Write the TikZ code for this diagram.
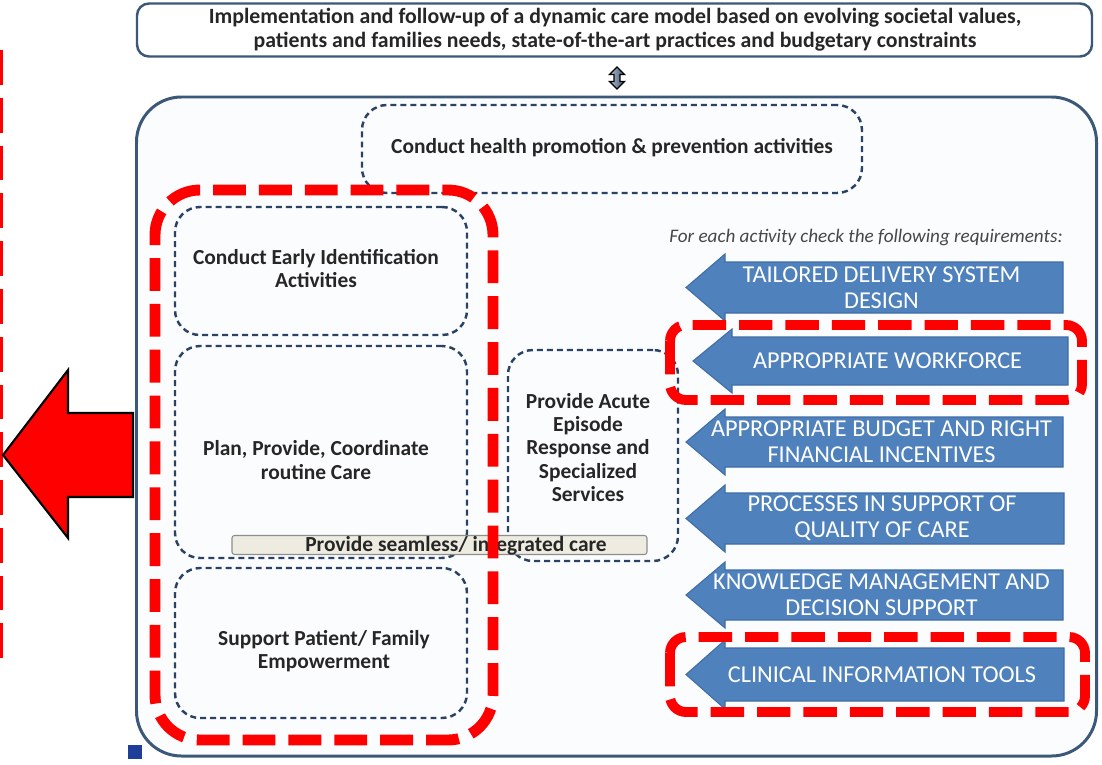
\documentclass[tikz,border=0pt]{standalone}
\usepackage{fontspec}
\setmainfont{Carlito}
\usetikzlibrary{shapes.arrows}

\definecolor{navy}{HTML}{2A4263}
\definecolor{framecol}{HTML}{3B5878}
\definecolor{reqblue}{HTML}{4F81BD}
\definecolor{reqedge}{HTML}{3F6DA6}
\definecolor{hilite}{HTML}{FF0000}
\definecolor{barfill}{HTML}{EEECE1}
\definecolor{baredge}{HTML}{8E8E8E}
\definecolor{panel}{HTML}{FBFCFE}
\definecolor{marker}{HTML}{1E3E9A}
\definecolor{linkfill}{HTML}{7F93AC}

\tikzset{
  activity/.style={draw=navy, line width=1.4pt, dash pattern=on 3.4pt off 2.3pt,
    rounded corners=0.5cm, inner sep=0pt},
  boxtext/.style={align=center, font=\bfseries\fontsize{12.2}{13.2}\selectfont,
    text=black!85, inner sep=0pt},
  focus/.style={draw=hilite, line width=6.2pt, dash pattern=on 18.7pt off 7.4pt,
    dash phase=13pt, rounded corners=0.9cm},
  focussmall/.style={draw=hilite, line width=5.6pt, dash pattern=on 19pt off 7.4pt,
    rounded corners=0.32cm},
  reqshape/.style={fill=reqblue, draw=reqedge, line width=0.6pt},
  reqtext/.style={align=center, text=white, font=\fontsize{13.8}{14.8}\selectfont,
    inner sep=0pt},
}

% one left-pointing requirement arrow:
% #1 name, #2 tip x, #3 shaft top, #4 shaft bottom, #5 tail x, #6 text
\newcommand\reqarrow[6]{%
  \draw[reqshape] (#2,{(#3+#4)/2}) -- (#2+39,#3-8) -- (#2+39,#3) -- (#5,#3)
    -- (#5,#4) -- (#2+39,#4) -- (#2+39,#4+8) -- cycle;
  \node[reqtext] (#1) at ({(#2+#5)/2+7},{(#3+#4)/2}) {#6};
}

\begin{document}
\begin{tikzpicture}[x=0.02cm,y=-0.02cm]
\useasboundingbox (0,0) rectangle (1102,764);

% outer panel holding the care activities
\node[draw=framecol, fill=panel, line width=1.7pt, rounded corners=0.9cm,
  minimum width={960*0.02cm}, minimum height={659*0.02cm}, inner sep=0pt]
  (main) at (616.5,426.5) {};

% care model statement
\node[draw=framecol, fill=white, line width=1.4pt, rounded corners=0.24cm,
  minimum width={955*0.02cm}, minimum height={53*0.02cm}, inner sep=0pt]
  (model) at (614.5,30) {};
\node[align=center, font=\bfseries\fontsize{12.4}{13.6}\selectfont, text=black!85,
  inner sep=0pt] (model-text) at (615,30)
  {Implementation and follow-up of a dynamic care model based on evolving societal values,\\
   patients and families needs, state-of-the-art practices and budgetary constraints};

% two-way link between statement and panel
\node[double arrow, draw=black, line width=0.7pt, top color=linkfill!60, bottom color=navy!90,
  shading angle=90, rotate=90, minimum height={22*0.02cm}, minimum width={15*0.02cm},
  double arrow head extend={4*0.02cm}, inner sep={2*0.02cm}] (link) at (617,78) {};

% activities
\node[activity, minimum width={500*0.02cm}, minimum height={88*0.02cm}]
  (health) at (612,149) {};
\node[boxtext] (health-text) at (612,148) {Conduct health promotion \& prevention activities};

\node[activity, minimum width={292*0.02cm}, minimum height={128*0.02cm}]
  (early) at (321,271) {};
\node[boxtext] (early-text) at (316,268.5) {Conduct Early Identification\\Activities};

\node[activity, minimum width={292*0.02cm}, minimum height={212*0.02cm}]
  (plan) at (321,452) {};
\node[boxtext] (plan-text) at (316,460) {Plan, Provide, Coordinate\\routine Care};

\node[activity, minimum width={292*0.02cm}, minimum height={150*0.02cm}]
  (support) at (321,643) {};
\node[boxtext] (support-text) at (324,651.5) {Support Patient/ Family\\Empowerment};

\node[activity, minimum width={170*0.02cm}, minimum height={211*0.02cm}]
  (acute) at (593,455.5) {};
\node[boxtext] (acute-text) at (588,447.5)
  {Provide Acute\\Episode\\Response and\\Specialized\\Services};

\node[draw=baredge, fill=barfill, line width=0.6pt, rounded corners=0.05cm,
  minimum width={415*0.02cm}, minimum height={19*0.02cm}, inner sep=0pt]
  (seamless) at (439.5,545) {};
\node[boxtext] (seamless-text) at (456,545.5) {Provide seamless/ integrated care};

% requirements
\node[font=\itshape\fontsize{10.9}{12}\selectfont, text=black!72, inner sep=0pt]
  (req-head) at (866,237) {For each activity check the following requirements:};

\reqarrow{tailored}{686}{262}{313}{1063}{TAILORED DELIVERY SYSTEM\\DESIGN}
\reqarrow{workforce}{693}{337}{385}{1068}{APPROPRIATE WORKFORCE}
\reqarrow{budget}{686}{417}{467}{1063}{APPROPRIATE BUDGET AND RIGHT\\FINANCIAL INCENTIVES}
\reqarrow{processes}{686}{493}{544}{1064}{PROCESSES IN SUPPORT OF\\QUALITY OF CARE}
\reqarrow{knowledge}{686}{570}{620}{1063}{KNOWLEDGE MANAGEMENT AND\\DECISION SUPPORT}
\reqarrow{clinical}{686}{648}{701}{1064}{CLINICAL INFORMATION TOOLS}

% highlighted areas
\draw[focus] (155,190) rectangle (493,740);
\draw[focussmall] (670,325) rectangle (1082,400);
\draw[focussmall] (670,637) rectangle (1085,712);
\draw[draw=hilite, line width=3pt, dash pattern=on 19.8pt off 7.4pt] (0,50) -- (0,667);

% outgoing highlight arrow
\draw[fill=hilite, draw=black, line width=1.2pt, line join=miter]
  (3,455) -- (68,370) -- (68,413) -- (133,413) -- (133,497) -- (68,497) -- (68,538) -- cycle;

% corner marker
\fill[marker] (128,745) rectangle (142,759);
\end{tikzpicture}
\end{document}
